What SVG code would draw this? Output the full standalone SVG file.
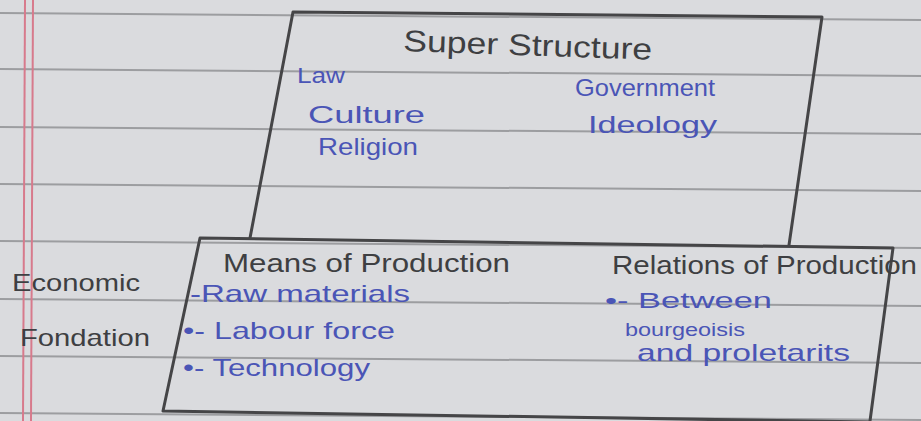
<svg xmlns="http://www.w3.org/2000/svg" width="921" height="421" viewBox="0 0 921 421">
<defs>
<style>
.paper{fill:#dadbde}
.rule{stroke:#9c9da0;stroke-width:2;fill:none}
.margin{stroke:#d77a8c;stroke-width:2;fill:none}
.box{stroke:#454547;stroke-width:3;fill:none;stroke-linejoin:round;stroke-linecap:round}
.dark{fill:#3e3f42;font-family:"Liberation Sans","DejaVu Sans",sans-serif}
.blue{fill:#4a55b6;font-family:"Liberation Sans","DejaVu Sans",sans-serif}
</style>
</defs>
<rect class="paper" x="0" y="0" width="921" height="421"/>
<g id="paper-lines">
<path class="rule" d="M0 13 L921 20"/>
<path class="rule" d="M0 69 L921 76"/>
<path class="rule" d="M0 127 L921 134"/>
<path class="rule" d="M0 184 L921 191"/>
<path class="rule" d="M0 241 L921 248"/>
<path class="rule" d="M0 299 L921 306"/>
<path class="rule" d="M0 356 L921 363"/>
<path class="rule" d="M0 413 L921 420"/>
<path class="margin" d="M25 0 L23 421"/>
<path class="margin" d="M33 0 L31 421"/>
</g>
<g id="connectors"></g>
<g id="superstructure">
<path class="box" d="M250 238 L293 12 L822 17 L789 245"/>
<text class="dark" x="403" y="51" font-size="30" textLength="249" lengthAdjust="spacingAndGlyphs" transform="rotate(2 403 51)">Super Structure</text>
<text class="blue" x="297" y="83" font-size="22" textLength="48" lengthAdjust="spacingAndGlyphs">Law</text>
<text class="blue" x="308" y="123" font-size="24" textLength="117" lengthAdjust="spacingAndGlyphs">Culture</text>
<text class="blue" x="318" y="155" font-size="24" textLength="100" lengthAdjust="spacingAndGlyphs">Religion</text>
<text class="blue" x="575" y="96" font-size="24" textLength="140" lengthAdjust="spacingAndGlyphs">Government</text>
<text class="blue" x="588" y="133" font-size="24" textLength="129" lengthAdjust="spacingAndGlyphs">Ideology</text>
</g>
<g id="economic-foundation-label">
<text class="dark" x="12" y="291" font-size="24" textLength="128" lengthAdjust="spacingAndGlyphs">Economic</text>
<text class="dark" x="20" y="346" font-size="24" textLength="130" lengthAdjust="spacingAndGlyphs">Fondation</text>
</g>
<g id="economic-base">
<path class="box" d="M870 421 L893 248 L200 238 L163 411 L870 422"/>
<text class="dark" x="223" y="272" font-size="26" textLength="287" lengthAdjust="spacingAndGlyphs">Means of Production</text>
<text class="blue" x="190" y="302" font-size="24" textLength="220" lengthAdjust="spacingAndGlyphs">-Raw materials</text>
<text class="blue" x="183" y="339" font-size="24" textLength="212" lengthAdjust="spacingAndGlyphs">•- Labour force</text>
<text class="blue" x="183" y="376" font-size="24" textLength="187" lengthAdjust="spacingAndGlyphs">•- Technology</text>
<text class="dark" x="612" y="274" font-size="26" textLength="305" lengthAdjust="spacingAndGlyphs">Relations of Production</text>
<text class="blue" x="605" y="308" font-size="22" textLength="167" lengthAdjust="spacingAndGlyphs">•- Between</text>
<text class="blue" x="625" y="336" font-size="18" textLength="120" lengthAdjust="spacingAndGlyphs">bourgeoisis</text>
<text class="blue" x="637" y="361" font-size="24" textLength="213" lengthAdjust="spacingAndGlyphs">and proletarits</text>
</g>
</svg>
